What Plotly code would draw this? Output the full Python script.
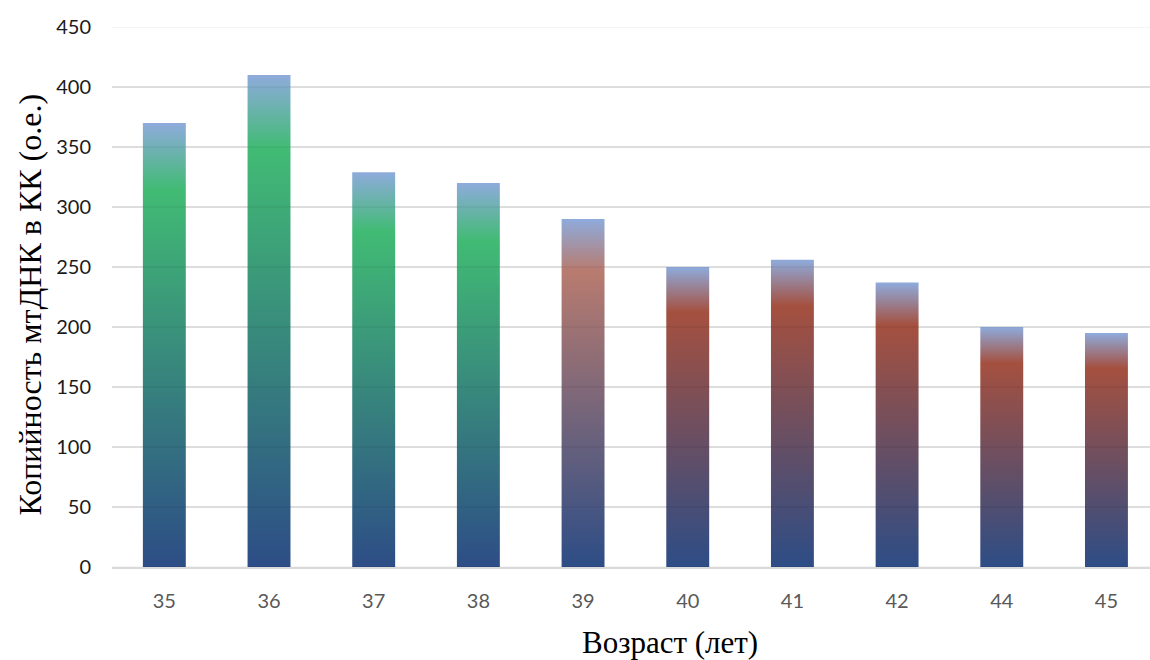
import plotly.graph_objects as go

# Data: mtDNA copy number in cumulus cells by age
ages = ["35", "36", "37", "38", "39", "40", "41", "42", "44", "45"]
copy_number = [370, 410, 329, 320, 290, 250, 256, 237, 200, 195]
y_ticks = [0, 50, 100, 150, 200, 250, 300, 350, 400, 450]

# Styling: each bar fades from dark blue (bottom) to its main colour, then to light blue at the top
BOTTOM = "rgb(45,77,134)"
TOP = "rgb(142,171,220)"
GREEN = "rgb(65,187,116)"
SALMON = "rgb(184,123,111)"
RED = "rgb(165,80,63)"
main_colors = [GREEN, GREEN, GREEN, GREEN, SALMON, RED, RED, RED, RED, RED]
PEAK = 0.85
BAR_WIDTH = 0.41

fig = go.Figure()

# One filled rectangle per bar, with a vertical gradient from its base to its top
for i, (age, v, main) in enumerate(zip(ages, copy_number, main_colors)):
    half = BAR_WIDTH / 2
    fig.add_trace(go.Scatter(
        x=[i - half, i + half, i + half, i - half, i - half],
        y=[0, 0, v, v, 0],
        mode="lines",
        line=dict(width=0),
        fill="toself",
        fillgradient=dict(
            type="vertical",
            start=0, stop=v,
            colorscale=[[0, BOTTOM], [PEAK, main], [1, TOP]],
        ),
        hoveron="fills",
        name=f"{age}: {v}",
        showlegend=False,
    ))

# Faint gridlines drawn over the bars
for t in y_ticks:
    fig.add_shape(type="line", xref="paper", x0=0, x1=1, yref="y", y0=t, y1=t,
                  line=dict(color="rgba(0,0,0,0.06)", width=1.5), layer="above")

fig.update_layout(
    width=1150, height=660,
    margin=dict(l=112, r=0, t=27, b=93),
    paper_bgcolor="white", plot_bgcolor="white",
    font=dict(family="Lato, Liberation Sans, Arial, sans-serif"),
    xaxis=dict(
        range=[-0.5, 9.416],
        tickvals=list(range(len(ages))),
        ticktext=ages,
        showgrid=False, zeroline=False,
        showline=True, linecolor="#d9d9d9", linewidth=1.5,
        ticks="", ticklabelstandoff=15,
        tickfont=dict(size=20, color="#595959"),
    ),
    yaxis=dict(
        range=[0, 450],
        tickvals=y_ticks,
        showgrid=True, gridcolor="#e7e7e7", gridwidth=1.5,
        zeroline=False, showline=False,
        ticks="", ticklabelstandoff=20,
        tickfont=dict(size=20, color="#1a1a1a"),
    ),
    annotations=[
        dict(text="Возраст (лет)", xref="paper", yref="paper",
             x=0.5376, y=-0.139, xanchor="center", yanchor="middle",
             showarrow=False,
             font=dict(family="Liberation Serif, Times New Roman, serif", size=31, color="black")),
        dict(text="Копийность мтДНК в КК (о.е.)", xref="paper", yref="paper",
             x=-0.079, y=0.486, xanchor="center", yanchor="middle", textangle=-90,
             showarrow=False,
             font=dict(family="Liberation Serif, Times New Roman, serif", size=32, color="black")),
    ],
)

fig.write_html("out.html")
